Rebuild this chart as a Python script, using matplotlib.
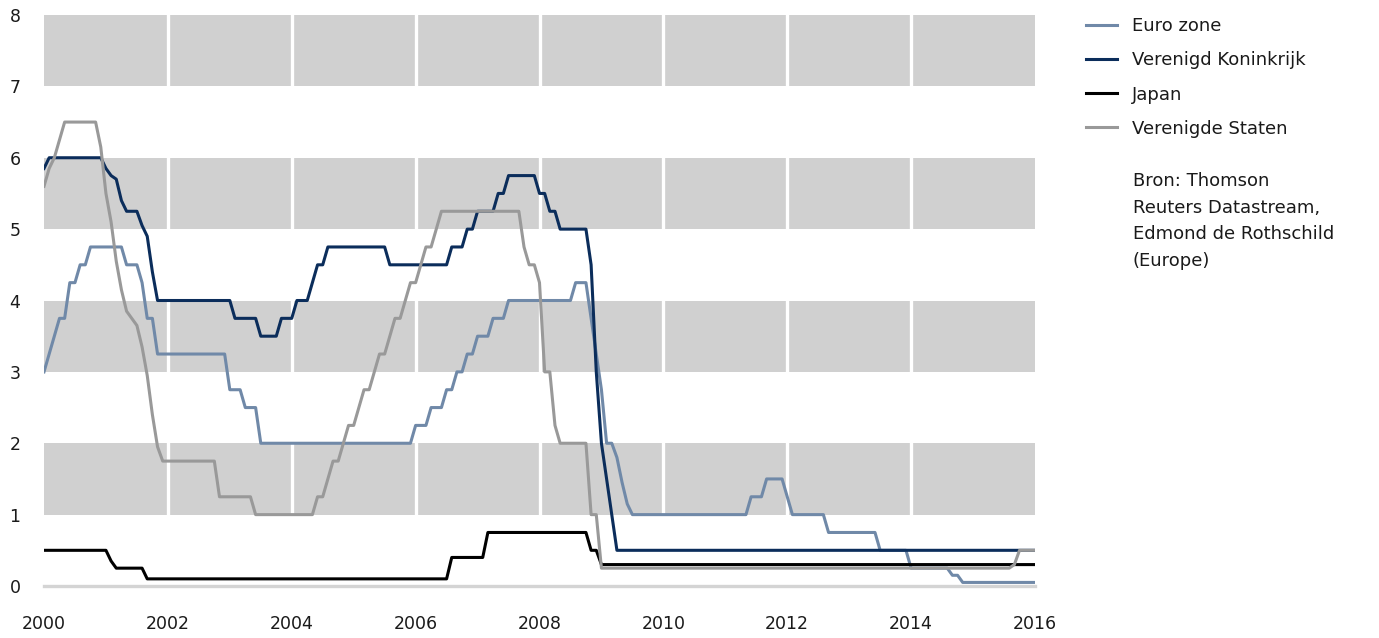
import matplotlib.pyplot as plt
import numpy as np
import pandas as pd

plt.rcParams['font.family'] = 'DejaVu Sans'

# monthly observations, Jan 2000 .. Jan 2016
months = pd.date_range('2000-01-01', '2016-01-01', freq='MS')

euro_zone = [
    3.0, 3.25, 3.5, 3.75, 3.75, 4.25, 4.25, 4.5, 4.5, 4.75, 4.75, 4.75,        # 2000
    4.75, 4.75, 4.75, 4.75, 4.5, 4.5, 4.5, 4.25, 3.75, 3.75, 3.25, 3.25,       # 2001
    3.25, 3.25, 3.25, 3.25, 3.25, 3.25, 3.25, 3.25, 3.25, 3.25, 3.25, 3.25,    # 2002
    2.75, 2.75, 2.75, 2.5, 2.5, 2.5, 2.0, 2.0, 2.0, 2.0, 2.0, 2.0,             # 2003
    2.0, 2.0, 2.0, 2.0, 2.0, 2.0, 2.0, 2.0, 2.0, 2.0, 2.0, 2.0,                # 2004
    2.0, 2.0, 2.0, 2.0, 2.0, 2.0, 2.0, 2.0, 2.0, 2.0, 2.0, 2.0,                # 2005
    2.25, 2.25, 2.25, 2.5, 2.5, 2.5, 2.75, 2.75, 3.0, 3.0, 3.25, 3.25,         # 2006
    3.5, 3.5, 3.5, 3.75, 3.75, 3.75, 4.0, 4.0, 4.0, 4.0, 4.0, 4.0,             # 2007
    4.0, 4.0, 4.0, 4.0, 4.0, 4.0, 4.0, 4.25, 4.25, 4.25, 3.75, 3.25,          # 2008
    2.75, 2.0, 2.0, 1.8, 1.45, 1.15, 1.0, 1.0, 1.0, 1.0, 1.0, 1.0,             # 2009
    1.0, 1.0, 1.0, 1.0, 1.0, 1.0, 1.0, 1.0, 1.0, 1.0, 1.0, 1.0,                # 2010
    1.0, 1.0, 1.0, 1.0, 1.0, 1.25, 1.25, 1.25, 1.5, 1.5, 1.5, 1.5,             # 2011
    1.25, 1.0, 1.0, 1.0, 1.0, 1.0, 1.0, 1.0, 0.75, 0.75, 0.75, 0.75,          # 2012
    0.75, 0.75, 0.75, 0.75, 0.75, 0.75, 0.5, 0.5, 0.5, 0.5, 0.5, 0.5,         # 2013
    0.25, 0.25, 0.25, 0.25, 0.25, 0.25, 0.25, 0.25, 0.15, 0.15, 0.05, 0.05,   # 2014
    0.05, 0.05, 0.05, 0.05, 0.05, 0.05, 0.05, 0.05, 0.05, 0.05, 0.05, 0.05,   # 2015
    0.05,                                                                      # 2016
]

verenigd_koninkrijk = [
    5.85, 6.0, 6.0, 6.0, 6.0, 6.0, 6.0, 6.0, 6.0, 6.0, 6.0, 6.0,              # 2000
    5.85, 5.75, 5.7, 5.4, 5.25, 5.25, 5.25, 5.05, 4.9, 4.4, 4.0, 4.0,         # 2001
    4.0, 4.0, 4.0, 4.0, 4.0, 4.0, 4.0, 4.0, 4.0, 4.0, 4.0, 4.0,               # 2002
    4.0, 3.75, 3.75, 3.75, 3.75, 3.75, 3.5, 3.5, 3.5, 3.5, 3.75, 3.75,        # 2003
    3.75, 4.0, 4.0, 4.0, 4.25, 4.5, 4.5, 4.75, 4.75, 4.75, 4.75, 4.75,        # 2004
    4.75, 4.75, 4.75, 4.75, 4.75, 4.75, 4.75, 4.5, 4.5, 4.5, 4.5, 4.5,        # 2005
    4.5, 4.5, 4.5, 4.5, 4.5, 4.5, 4.5, 4.75, 4.75, 4.75, 5.0, 5.0,            # 2006
    5.25, 5.25, 5.25, 5.25, 5.5, 5.5, 5.75, 5.75, 5.75, 5.75, 5.75, 5.75,     # 2007
    5.5, 5.5, 5.25, 5.25, 5.0, 5.0, 5.0, 5.0, 5.0, 5.0, 4.5, 3.0,             # 2008
    2.0, 1.5, 1.0, 0.5, 0.5, 0.5, 0.5, 0.5, 0.5, 0.5, 0.5, 0.5,               # 2009
    0.5, 0.5, 0.5, 0.5, 0.5, 0.5, 0.5, 0.5, 0.5, 0.5, 0.5, 0.5,               # 2010
    0.5, 0.5, 0.5, 0.5, 0.5, 0.5, 0.5, 0.5, 0.5, 0.5, 0.5, 0.5,               # 2011
    0.5, 0.5, 0.5, 0.5, 0.5, 0.5, 0.5, 0.5, 0.5, 0.5, 0.5, 0.5,               # 2012
    0.5, 0.5, 0.5, 0.5, 0.5, 0.5, 0.5, 0.5, 0.5, 0.5, 0.5, 0.5,               # 2013
    0.5, 0.5, 0.5, 0.5, 0.5, 0.5, 0.5, 0.5, 0.5, 0.5, 0.5, 0.5,               # 2014
    0.5, 0.5, 0.5, 0.5, 0.5, 0.5, 0.5, 0.5, 0.5, 0.5, 0.5, 0.5,               # 2015
    0.5,                                                                       # 2016
]

japan = [
    0.5, 0.5, 0.5, 0.5, 0.5, 0.5, 0.5, 0.5, 0.5, 0.5, 0.5, 0.5,               # 2000
    0.5, 0.35, 0.25, 0.25, 0.25, 0.25, 0.25, 0.25, 0.1, 0.1, 0.1, 0.1,        # 2001
    0.1, 0.1, 0.1, 0.1, 0.1, 0.1, 0.1, 0.1, 0.1, 0.1, 0.1, 0.1,               # 2002
    0.1, 0.1, 0.1, 0.1, 0.1, 0.1, 0.1, 0.1, 0.1, 0.1, 0.1, 0.1,               # 2003
    0.1, 0.1, 0.1, 0.1, 0.1, 0.1, 0.1, 0.1, 0.1, 0.1, 0.1, 0.1,               # 2004
    0.1, 0.1, 0.1, 0.1, 0.1, 0.1, 0.1, 0.1, 0.1, 0.1, 0.1, 0.1,               # 2005
    0.1, 0.1, 0.1, 0.1, 0.1, 0.1, 0.1, 0.4, 0.4, 0.4, 0.4, 0.4,               # 2006
    0.4, 0.4, 0.75, 0.75, 0.75, 0.75, 0.75, 0.75, 0.75, 0.75, 0.75, 0.75,     # 2007
    0.75, 0.75, 0.75, 0.75, 0.75, 0.75, 0.75, 0.75, 0.75, 0.75, 0.5, 0.5,     # 2008
    0.3, 0.3, 0.3, 0.3, 0.3, 0.3, 0.3, 0.3, 0.3, 0.3, 0.3, 0.3,               # 2009
    0.3, 0.3, 0.3, 0.3, 0.3, 0.3, 0.3, 0.3, 0.3, 0.3, 0.3, 0.3,               # 2010
    0.3, 0.3, 0.3, 0.3, 0.3, 0.3, 0.3, 0.3, 0.3, 0.3, 0.3, 0.3,               # 2011
    0.3, 0.3, 0.3, 0.3, 0.3, 0.3, 0.3, 0.3, 0.3, 0.3, 0.3, 0.3,               # 2012
    0.3, 0.3, 0.3, 0.3, 0.3, 0.3, 0.3, 0.3, 0.3, 0.3, 0.3, 0.3,               # 2013
    0.3, 0.3, 0.3, 0.3, 0.3, 0.3, 0.3, 0.3, 0.3, 0.3, 0.3, 0.3,               # 2014
    0.3, 0.3, 0.3, 0.3, 0.3, 0.3, 0.3, 0.3, 0.3, 0.3, 0.3, 0.3,               # 2015
    0.3,                                                                       # 2016
]

verenigde_staten = [
    5.6, 5.85, 6.0, 6.25, 6.5, 6.5, 6.5, 6.5, 6.5, 6.5, 6.5, 6.15,            # 2000
    5.5, 5.1, 4.55, 4.15, 3.85, 3.75, 3.65, 3.35, 2.95, 2.4, 1.95, 1.75,      # 2001
    1.75, 1.75, 1.75, 1.75, 1.75, 1.75, 1.75, 1.75, 1.75, 1.75, 1.25, 1.25,   # 2002
    1.25, 1.25, 1.25, 1.25, 1.25, 1.0, 1.0, 1.0, 1.0, 1.0, 1.0, 1.0,          # 2003
    1.0, 1.0, 1.0, 1.0, 1.0, 1.25, 1.25, 1.5, 1.75, 1.75, 2.0, 2.25,          # 2004
    2.25, 2.5, 2.75, 2.75, 3.0, 3.25, 3.25, 3.5, 3.75, 3.75, 4.0, 4.25,       # 2005
    4.25, 4.5, 4.75, 4.75, 5.0, 5.25, 5.25, 5.25, 5.25, 5.25, 5.25, 5.25,     # 2006
    5.25, 5.25, 5.25, 5.25, 5.25, 5.25, 5.25, 5.25, 5.25, 4.75, 4.5, 4.5,     # 2007
    4.25, 3.0, 3.0, 2.25, 2.0, 2.0, 2.0, 2.0, 2.0, 2.0, 1.0, 1.0,             # 2008
    0.25, 0.25, 0.25, 0.25, 0.25, 0.25, 0.25, 0.25, 0.25, 0.25, 0.25, 0.25,   # 2009
    0.25, 0.25, 0.25, 0.25, 0.25, 0.25, 0.25, 0.25, 0.25, 0.25, 0.25, 0.25,   # 2010
    0.25, 0.25, 0.25, 0.25, 0.25, 0.25, 0.25, 0.25, 0.25, 0.25, 0.25, 0.25,   # 2011
    0.25, 0.25, 0.25, 0.25, 0.25, 0.25, 0.25, 0.25, 0.25, 0.25, 0.25, 0.25,   # 2012
    0.25, 0.25, 0.25, 0.25, 0.25, 0.25, 0.25, 0.25, 0.25, 0.25, 0.25, 0.25,   # 2013
    0.25, 0.25, 0.25, 0.25, 0.25, 0.25, 0.25, 0.25, 0.25, 0.25, 0.25, 0.25,   # 2014
    0.25, 0.25, 0.25, 0.25, 0.25, 0.25, 0.25, 0.25, 0.3, 0.5, 0.5, 0.5,       # 2015
    0.5,                                                                       # 2016
]

series = [
    ('Euro zone', euro_zone, '#7089a8'),
    ('Verenigd Koninkrijk', verenigd_koninkrijk, '#0b2d5b'),
    ('Japan', japan, '#000000'),
    ('Verenigde Staten', verenigde_staten, '#999999'),
]

source = 'Bron: Thomson\nReuters Datastream,\nEdmond de Rothschild\n(Europe)'

# decimal year for each month
t = months.year + (months.month - 1) / 12

W, H = 1379, 638
fig = plt.figure(figsize=(W / 100, H / 100), dpi=100)
ax = fig.add_axes([44 / W, (H - 586) / H, (1035 - 44) / W, (586 - 15) / H])

ax.set_xlim(2000, 2016)
ax.set_ylim(0, 8)

# alternating grey bands with white separators every two years
for lo in (1, 3, 5, 7):
    ax.axhspan(lo, lo + 1, color='#d0d0d0', lw=0, zorder=0)
for yr in range(2002, 2016, 2):
    ax.axvline(yr, color='white', lw=2.4, zorder=1)
ax.axhline(0, color='#d4d4d4', lw=2.4, zorder=2, clip_on=False)

for name, vals, col in series:
    assert len(vals) == len(t)
    ax.plot(t, vals, color=col, lw=2.2, label=name, zorder=3,
            solid_joinstyle='round')

ax.set_xticks(np.arange(2000, 2017, 2))
ax.set_yticks(np.arange(0, 9, 1))
ax.tick_params(axis='both', length=0, labelsize=12.5, colors='#1a1a1a')
ax.tick_params(axis='x', pad=21)
ax.tick_params(axis='y', pad=17)
for s in ax.spines.values():
    s.set_visible(False)

ax.legend(loc='upper left', bbox_to_anchor=(1086 / W, (H - 17) / H),
          bbox_transform=fig.transFigure, frameon=False, fontsize=13,
          handlelength=1.72, handletextpad=0.83, labelspacing=0.9,
          borderpad=0, borderaxespad=0, labelcolor='#1a1a1a')

fig.text(1133 / W, 1 - 172 / H, source, ha='left', va='top', fontsize=13,
         color='#1a1a1a', linespacing=1.62)

fig.savefig('out.png', dpi=100)
